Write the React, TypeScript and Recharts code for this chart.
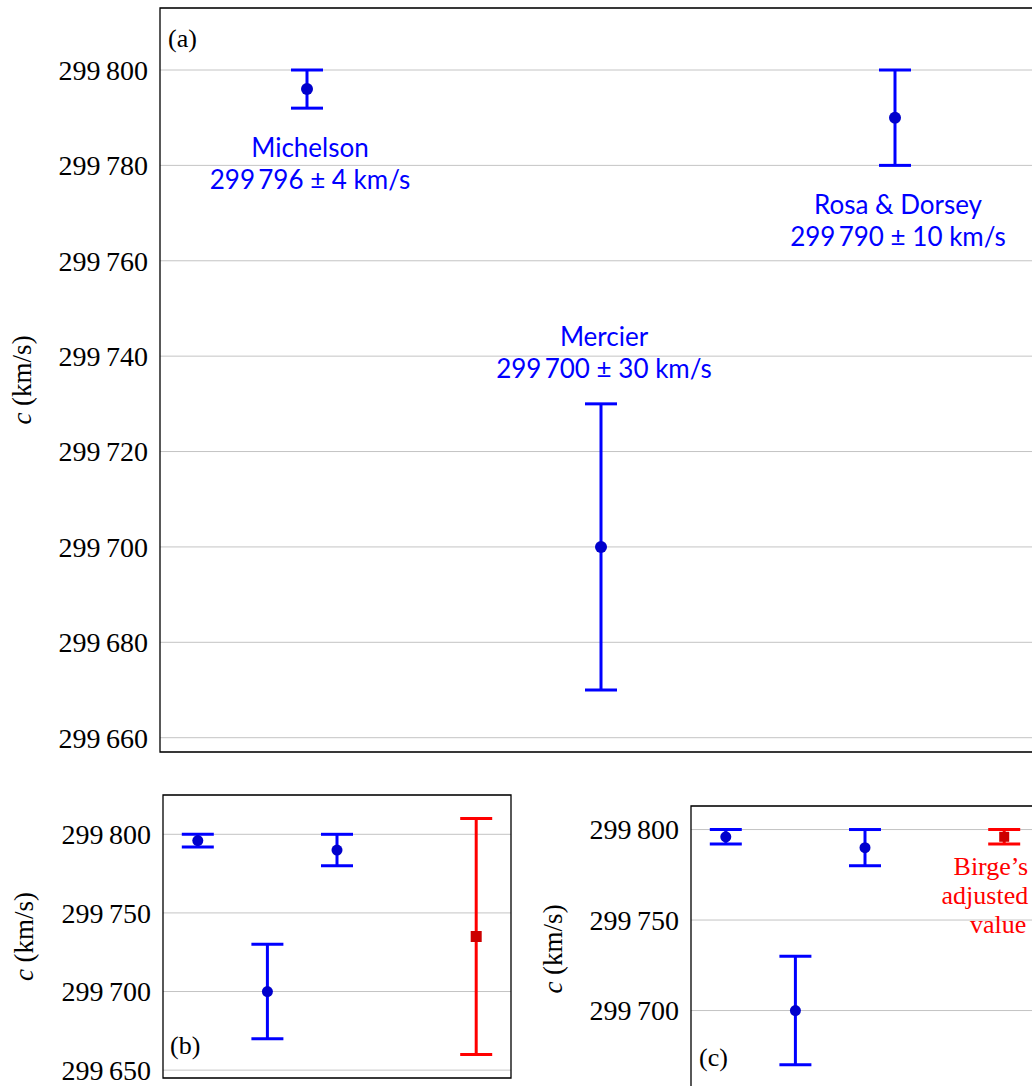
import React from 'react';
import { ScatterChart, Scatter, XAxis, YAxis, CartesianGrid, ErrorBar, ReferenceArea } from 'recharts';

// Measurements of the speed of light (km/s)
const experiments = ['Michelson', 'Mercier', 'Rosa & Dorsey'];
const experimentX = [1, 2, 3];
const cValues = [299796, 299700, 299790];
const cErrors = [4, 30, 10];
const valueTexts = ['299\u2009796 ± 4 km/s', '299\u2009700 ± 30 km/s', '299\u2009790 ± 10 km/s'];

// Birge's adjusted value (panel b: wide uncertainty, panel c: adjusted)
const birgeX = 5;
const birgeValueB = 299735;
const birgeErrorB = 75;
const birgeValueC = 299796;
const birgeErrorC = 4;
const birgeText = ['Birge\u2019s', 'adjusted', 'value'];

const ticksA = [299660, 299680, 299700, 299720, 299740, 299760, 299780, 299800];
const ticksB = [299650, 299700, 299750, 299800];
const ticksC = [299700, 299750, 299800];

const BLUE = '#0000ff';
const BLUE_MARK = '#0000cc';
const RED = '#ff0000';
const RED_MARK = '#cc0000';
const SERIF = '"Liberation Serif", "Times New Roman", serif';
const SANS = 'Lato, "Open Sans", sans-serif';

const blueData = experiments.map((name, i) => ({ x: experimentX[i], y: cValues[i], err: cErrors[i], name }));
const birgeDataB = [{ x: birgeX, y: birgeValueB, err: birgeErrorB }];
const birgeDataC = [{ x: birgeX, y: birgeValueC, err: birgeErrorC }];

const fmt = (v: number) => `${Math.floor(v / 1000)}\u2009${String(v % 1000).padStart(3, '0')}`;

const makeDot = (r: number) => (p: any) => <circle cx={p.cx} cy={p.cy} r={r} fill={BLUE_MARK} />;
const makeSquare = (s: number) => (p: any) => (
  <rect x={p.cx - s / 2} y={p.cy - s / 2} width={s} height={s} fill={RED_MARK} />
);

// annotations of panel (a): anchored on the error bar end
const annoData = experiments.map((name, i) => {
  const above = name === 'Mercier';
  return {
    x: experimentX[i],
    y: above ? cValues[i] + cErrors[i] : cValues[i] - cErrors[i],
    above,
    name,
    text: valueTexts[i],
  };
});

const AnnoShape = (p: any) => {
  const { cx, cy, payload } = p;
  const y1 = payload.above ? cy - 58 : cy + 49;
  const y2 = payload.above ? cy - 26 : cy + 81;
  return (
    <g fill={BLUE} fontFamily={SANS} fontSize={26} textAnchor="middle">
      <text x={cx + 3} y={y1}>{payload.name}</text>
      <text x={cx + 3} y={y2}>{payload.text}</text>
    </g>
  );
};

const BirgeShapeC = (p: any) => {
  const { cx, cy } = p;
  return (
    <g>
      <rect x={cx - 5} y={cy - 5} width={10} height={10} fill={RED_MARK} />
      <g fill={RED} fontFamily={SERIF} fontSize={26} textAnchor="end">
        <text x={cx + 24} y={cy + 38}>{birgeText[0]}</text>
        <text x={cx + 24} y={cy + 67}>{birgeText[1]}</text>
        <text x={cx + 22} y={cy + 96}>{birgeText[2]}</text>
      </g>
    </g>
  );
};

const yLabel = (dx: number) => (props: any) => {
  const vb = props.viewBox;
  const x = vb.x + dx;
  const y = vb.y + vb.height / 2;
  return (
    <text x={x} y={y} transform={`rotate(-90 ${x} ${y})`} textAnchor="middle" fontFamily={SERIF} fontSize={27} fill="#000">
      <tspan fontStyle="italic">c</tspan> (km/s)
    </text>
  );
};

const panelLabel = (txt: string, dx: number, dy: number, fromBottom: boolean) => (props: any) => {
  const vb = props.viewBox;
  const y = fromBottom ? vb.y + vb.height - dy : vb.y + dy;
  return (
    <text x={vb.x + dx} y={y} fontFamily={SERIF} fontSize={26} fill="#000">
      {txt}
    </text>
  );
};

const tickStyle = { fontFamily: SERIF, fontSize: 28, fill: '#000' };

function Axes({ xDomain, yDomain, ticks, yWidth, labelDx }: any) {
  return (
    <>
      <CartesianGrid vertical={false} stroke="#c4c4c4" strokeWidth={1} />
      <XAxis type="number" dataKey="x" domain={xDomain} allowDataOverflow hide />
      <YAxis
        type="number"
        dataKey="y"
        domain={yDomain}
        ticks={ticks}
        interval={0}
        allowDataOverflow
        width={yWidth}
        axisLine={false}
        tickLine={false}
        tickSize={0}
        tickMargin={12}
        tick={tickStyle}
        tickFormatter={fmt}
        label={yLabel(labelDx)}
      />
      <YAxis yAxisId="l" orientation="left" mirror type="number" domain={yDomain} ticks={ticks} interval={0} allowDataOverflow
        axisLine={false} tick={false} tickSize={11} tickLine={{ stroke: '#8a8a8a' }} />
      <YAxis yAxisId="r" orientation="right" mirror type="number" domain={yDomain} ticks={ticks} interval={0} allowDataOverflow
        axisLine={false} tick={false} tickSize={11} tickLine={{ stroke: '#8a8a8a' }} />
    </>
  );
}

export default function App() {
  const domA: [number, number] = [299657, 299813];
  const domB: [number, number] = [299645, 299825];
  const domC: [number, number] = [299655, 299813];
  return (
    <div style={{ position: 'fixed', left: 0, top: 0, width: 1032, height: 1086, overflow: 'hidden', background: '#fff' }}>
      {/* (a) */}
      <div style={{ position: 'absolute', left: 0, top: 0 }}>
        <ScatterChart width={1060} height={760} margin={{ top: 8, right: 18, bottom: 8, left: 0 }}>
          {Axes({ xDomain: [0.5, 3.5], yDomain: domA, ticks: ticksA, yWidth: 160, labelDx: 31 })}
          <ReferenceArea x1={0.5} x2={3.5} y1={domA[0]} y2={domA[1]} fill="none" stroke="#000" strokeWidth={1.3}
            label={panelLabel('(a)', 8, 39, false)} />
          <Scatter data={blueData} shape={makeDot(6)} isAnimationActive={false}>
            <ErrorBar dataKey="err" direction="y" width={16} stroke={BLUE} strokeWidth={3} isAnimationActive={false} />
          </Scatter>
          <Scatter data={annoData} shape={AnnoShape} isAnimationActive={false} />
        </ScatterChart>
      </div>

      {/* (b) */}
      <div style={{ position: 'absolute', left: 0, top: 780 }}>
        <ScatterChart width={530} height={306} margin={{ top: 15, right: 19, bottom: 8, left: 0 }}>
          {Axes({ xDomain: [0.5, 5.5], yDomain: domB, ticks: ticksB, yWidth: 163, labelDx: 33 })}
          <ReferenceArea x1={0.5} x2={5.5} y1={domB[0]} y2={domB[1]} fill="none" stroke="#000" strokeWidth={1.3}
            label={panelLabel('(b)', 7, 24, true)} />
          <Scatter data={blueData} shape={makeDot(5.5)} isAnimationActive={false}>
            <ErrorBar dataKey="err" direction="y" width={16} stroke={BLUE} strokeWidth={3} isAnimationActive={false} />
          </Scatter>
          <Scatter data={birgeDataB} shape={makeSquare(11)} isAnimationActive={false}>
            <ErrorBar dataKey="err" direction="y" width={16} stroke={RED} strokeWidth={3} isAnimationActive={false} />
          </Scatter>
        </ScatterChart>
      </div>

      {/* (c) */}
      <div style={{ position: 'absolute', left: 530, top: 790 }}>
        <ScatterChart width={530} height={320} margin={{ top: 16, right: 21, bottom: 18, left: 0 }}>
          {Axes({ xDomain: [0.5, 5.5], yDomain: domC, ticks: ticksC, yWidth: 161, labelDx: 32 })}
          <ReferenceArea x1={0.5} x2={5.5} y1={domC[0]} y2={domC[1]} fill="none" stroke="#000" strokeWidth={1.3}
            label={panelLabel('(c)', 8, 26, true)} />
          <Scatter data={blueData} shape={makeDot(5.5)} isAnimationActive={false}>
            <ErrorBar dataKey="err" direction="y" width={16} stroke={BLUE} strokeWidth={3} isAnimationActive={false} />
          </Scatter>
          <Scatter data={birgeDataC} shape={BirgeShapeC} isAnimationActive={false}>
            <ErrorBar dataKey="err" direction="y" width={16} stroke={RED} strokeWidth={3} isAnimationActive={false} />
          </Scatter>
        </ScatterChart>
      </div>
    </div>
  );
}
